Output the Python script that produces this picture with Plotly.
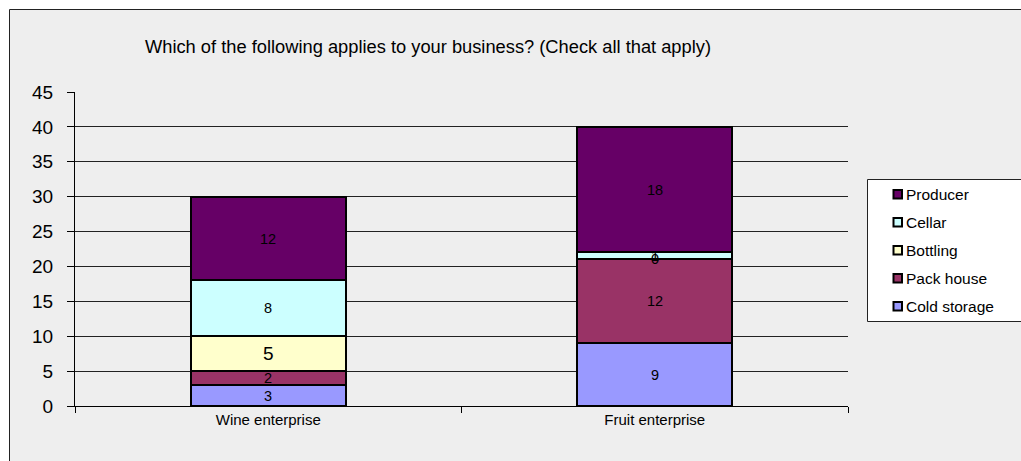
import plotly.graph_objects as go

categories = ["Wine enterprise", "Fruit enterprise"]
series_names = ["Cold storage", "Pack house", "Bottling", "Cellar", "Producer"]
cold_storage = [3, 9]
pack_house = [2, 12]
bottling = [5, 0]
cellar = [8, 1]
producer = [12, 18]
series_values = [cold_storage, pack_house, bottling, cellar, producer]
colors = ["#9999FF", "#993366", "#FFFFCC", "#CCFFFF", "#660066"]
y_ticks = [0, 5, 10, 15, 20, 25, 30, 35, 40, 45]

W, H = 1021, 461
L, R, T, B = 75, 848, 92, 406
FONT = "Liberation Sans, Arial, sans-serif"


def px(x):
    return (x - L) / (R - L)


def py(y):
    return (B - y) / (B - T)


fig = go.Figure()
for name, vals, col in zip(series_names, series_values, colors):
    fig.add_trace(go.Bar(
        x=categories, y=vals, name=name,
        marker=dict(color=col, line=dict(color="black", width=2)),
        showlegend=False, hoverinfo="x+y+name",
    ))

# segment labels at stacked midpoints
annotations = []
for ci, cat in enumerate(categories):
    base = 0
    for si, vals in enumerate(series_values):
        v = vals[ci]
        size = 19 if (ci == 0 and series_names[si] == "Bottling") else 14.5
        annotations.append(dict(
            x=cat, y=base + v / 2, xref="x", yref="y", text=str(v),
            showarrow=False, font=dict(size=size, color="black", family=FONT),
        ))
        base += v

# title
annotations.append(dict(
    x=px(428), y=py(47), xref="paper", yref="paper",
    text="Which of the following applies to your business? (Check all that apply)",
    showarrow=False, font=dict(size=18.3, color="black", family=FONT),
    xanchor="center", yanchor="middle",
))

shapes = [
    # chart area background and border
    dict(type="rect", xref="paper", yref="paper", layer="below",
         x0=px(9.5), x1=px(1030), y0=py(470), y1=py(9.5),
         fillcolor="#EEEEEE", line=dict(color="#222222", width=1)),
    # legend box
    dict(type="rect", xref="paper", yref="paper", layer="above",
         x0=px(867.5), x1=px(1030), y0=py(321.5), y1=py(179.5),
         fillcolor="white", line=dict(color="#222222", width=1)),
]

# manual legend (top: Producer ... bottom: Cold storage)
leg_y = [194, 222, 250, 278, 306]
for i, si in enumerate(reversed(range(len(series_names)))):
    yc = leg_y[i]
    shapes.append(dict(
        type="rect", xref="paper", yref="paper", layer="above",
        x0=px(893.5), x1=px(902), y0=py(yc + 4.5), y1=py(yc - 4),
        fillcolor=colors[si], line=dict(color="black", width=2),
    ))
    annotations.append(dict(
        x=px(904), y=py(yc), xref="paper", yref="paper",
        text=series_names[si], showarrow=False, xanchor="left", yanchor="middle",
        font=dict(size=15.5, color="black", family=FONT),
    ))

fig.update_layout(
    width=W, height=H,
    margin=dict(l=L, r=W - R, t=T, b=H - B, pad=0),
    barmode="stack", bargap=0.6,
    paper_bgcolor="white", plot_bgcolor="rgba(0,0,0,0)",
    font=dict(family=FONT, color="black"),
    showlegend=False,
    annotations=annotations, shapes=shapes,
    xaxis=dict(
        showline=True, linecolor="black", linewidth=1,
        ticks="outside", ticklen=6, tickcolor="black", tickson="boundaries",
        tickfont=dict(size=15, color="black", family=FONT),
        showgrid=False, zeroline=False,
    ),
    yaxis=dict(
        range=[0, 45], tickvals=y_ticks, ticktext=[str(t) for t in y_ticks],
        showline=True, linecolor="black", linewidth=1,
        ticks="outside", ticklen=7, tickcolor="black",
        tickfont=dict(size=19, color="black", family=FONT),
        ticklabelstandoff=10,
        showgrid=True, gridcolor="#222222", gridwidth=1, zeroline=False,
    ),
)

fig.write_html("out.html")
